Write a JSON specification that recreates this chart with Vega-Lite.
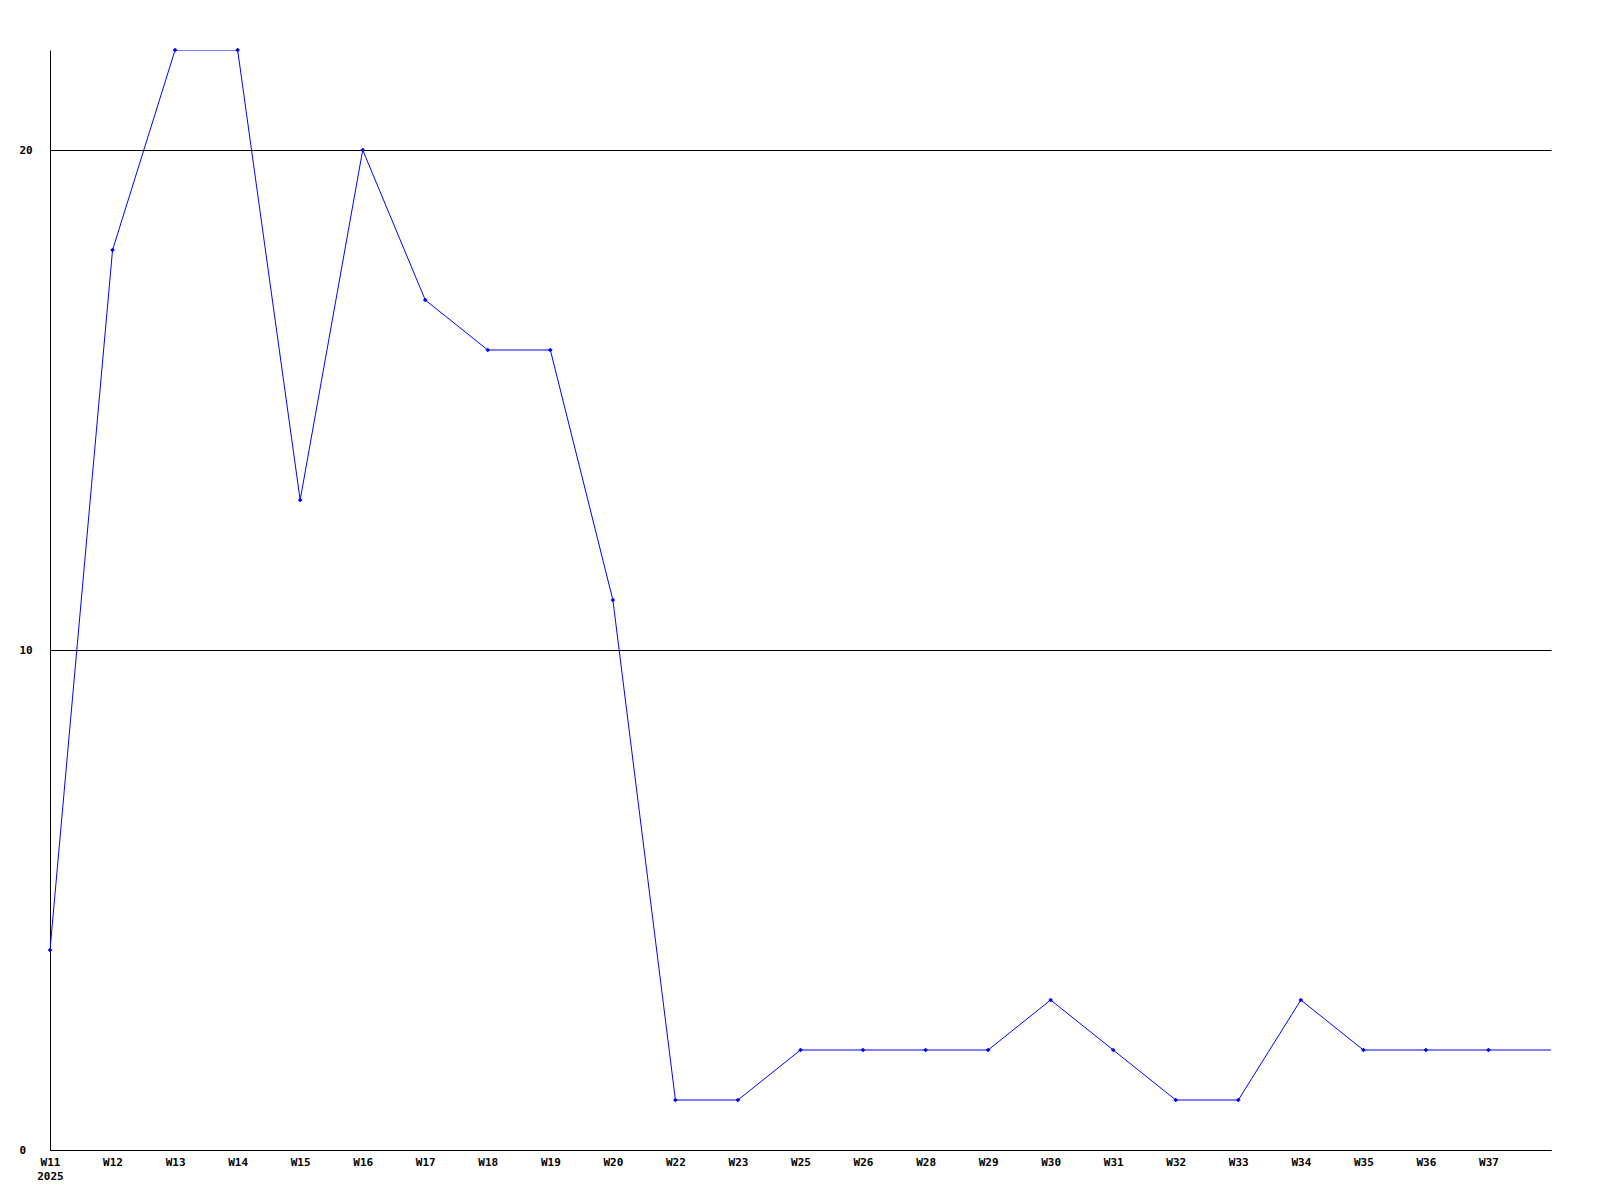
{
  "$schema": "https://vega.github.io/schema/vega-lite/v6.json",
  "autosize": {"type": "none"},
  "padding": {"left": 50, "top": 50, "right": 49, "bottom": 50},
  "width": 1501,
  "height": 1100,
  "background": "white",
  "config": {"view": {"stroke": null}},
  "data": {"values": [
    {"week": "W11", "value": 4, "marker": true},
    {"week": "W12", "value": 18, "marker": true},
    {"week": "W13", "value": 22, "marker": true},
    {"week": "W14", "value": 22, "marker": true},
    {"week": "W15", "value": 13, "marker": true},
    {"week": "W16", "value": 20, "marker": true},
    {"week": "W17", "value": 17, "marker": true},
    {"week": "W18", "value": 16, "marker": true},
    {"week": "W19", "value": 16, "marker": true},
    {"week": "W20", "value": 11, "marker": true},
    {"week": "W22", "value": 1, "marker": true},
    {"week": "W23", "value": 1, "marker": true},
    {"week": "W25", "value": 2, "marker": true},
    {"week": "W26", "value": 2, "marker": true},
    {"week": "W28", "value": 2, "marker": true},
    {"week": "W29", "value": 2, "marker": true},
    {"week": "W30", "value": 3, "marker": true},
    {"week": "W31", "value": 2, "marker": true},
    {"week": "W32", "value": 1, "marker": true},
    {"week": "W33", "value": 1, "marker": true},
    {"week": "W34", "value": 3, "marker": true},
    {"week": "W35", "value": 2, "marker": true},
    {"week": "W36", "value": 2, "marker": true},
    {"week": "W37", "value": 2, "marker": true},
    {"week": "W38", "value": 2, "marker": false}
  ]},
  "encoding": {
    "x": {
      "field": "week", "type": "ordinal", "sort": null,
      "scale": {"type": "point", "padding": 0},
      "axis": {
        "title": null, "labelAngle": 0, "ticks": false, "grid": false,
        "domainColor": "black", "domainWidth": 1,
        "labelFont": "DejaVu Sans Mono", "labelFontWeight": "bold", "labelFontSize": 11,
        "labelColor": "black", "labelPadding": 6, "labelBaseline": "top",
        "labelLineHeight": 14,
        "labelFlush": false, "labelOverlap": false,
        "labelExpr": "datum.value == 'W11' ? ['W11', '2025'] : (datum.value == 'W38' ? '' : datum.value)"
      }
    },
    "y": {
      "field": "value", "type": "quantitative",
      "scale": {"domain": [0, 22], "nice": false, "zero": true},
      "axis": {
        "title": null, "values": [0, 10, 20], "ticks": false,
        "grid": true, "gridColor": "black", "gridWidth": 1, "gridOpacity": 1,
        "domainColor": "black", "domainWidth": 1,
        "labelFont": "DejaVu Sans Mono", "labelFontWeight": "bold", "labelFontSize": 11,
        "labelColor": "black", "labelAlign": "left", "labelPadding": 31,
        "labelBaseline": "middle", "labelFlush": false
      }
    }
  },
  "layer": [
    {"mark": {"type": "line", "color": "#0000FF", "strokeWidth": 1, "clip": true}},
    {
      "transform": [{"filter": "datum.marker"}],
      "mark": {"type": "point", "shape": "diamond", "filled": true, "color": "#0000FF", "size": 22, "opacity": 1}
    }
  ]
}
